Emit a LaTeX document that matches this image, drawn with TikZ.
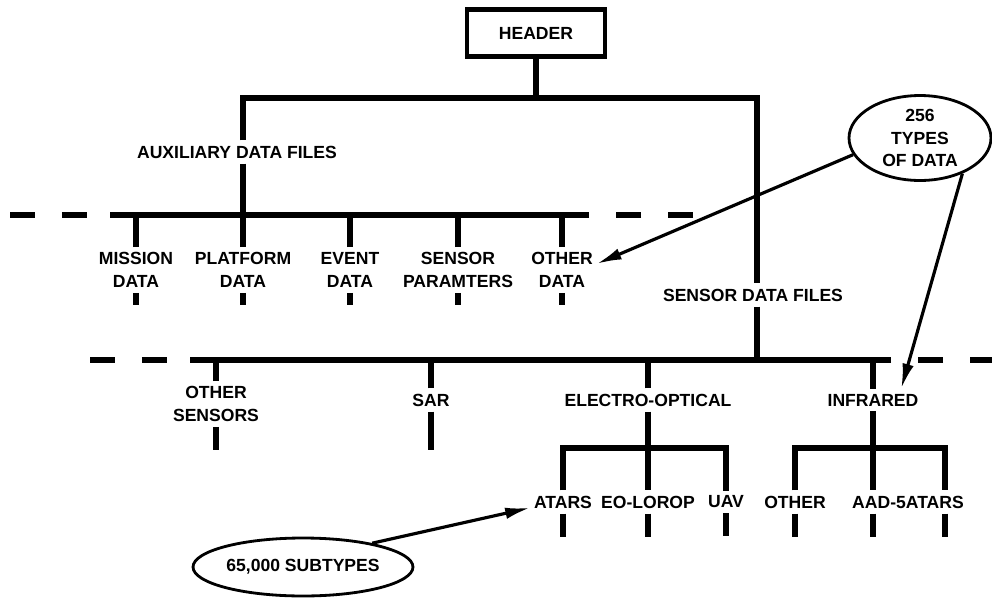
\documentclass[tikz,border=0pt]{standalone}
\usepackage{fontspec}
\setmainfont{Liberation Sans}
\usetikzlibrary{arrows.meta,positioning,shapes.geometric}
\newcommand{\lblfont}{\fontsize{10}{13}\selectfont\bfseries}
\tikzset{
  tree/.style={line width=3pt},
  ext/.style={line width=3pt, dash pattern=on 0.5cm off 0.54cm},
  lbl/.style={font=\lblfont, align=center, inner xsep=2pt, inner ysep=0.1cm},
  hdrbox/.style={draw, line width=2.8pt, minimum width=2.76cm, minimum height=0.94cm, font=\lblfont},
  bubble/.style={draw, ellipse, line width=1.6pt, inner sep=0pt, align=center, font=\lblfont},
  ptr/.style={-{Latex[length=5mm,width=2.3mm]}, line width=1.8pt},
}

\begin{document}
\begin{tikzpicture}[x=0.02cm, y=-0.02cm]
  \useasboundingbox (0,0) rectangle (992,599);
  % top level
  \node[hdrbox] (hdr) at (536,33) {HEADER};
  \node[lbl] (aux) at (237,152) {AUXILIARY DATA FILES};
  \node[lbl] (sens) at (753,295) {SENSOR DATA FILES};
  \coordinate (aj) at (243,98);
  \coordinate (sj) at (757,98);
  \coordinate (abus) at (243,215);
  \coordinate (sbus) at (757,360);
  \coordinate (low) at (0,450);
  \draw[tree] (hdr.south) -- (hdr.south |- aj);
  \draw[tree] (aux.north -| aj) -- (aj) -- (sj) -- (sens.north -| sj);
  \draw[tree] (aux.south -| abus) -- (abus);
  \draw[tree] (sens.south -| sbus) -- (sbus);

  % auxiliary data files
  \coordinate (aL0) at (10,215);  \coordinate (aL) at (110,215);
  \coordinate (aR) at (585,215);  \coordinate (aR0) at (693,215);
  \draw[tree] (aL) -- (aR);
  \draw[ext] (aL0) -- (aL);
  \draw[ext] (aR0) -- (aR);
  \foreach \n/\x/\t in {mis/136/{MISSION\\DATA}, plat/243/{PLATFORM\\DATA},
                        evt/350/{EVENT\\DATA}, spar/458/{SENSOR\\PARAMTERS},
                        oth/562/{OTHER\\DATA}} {
    \node[lbl] (\n) at (\x,270) {\t};
    \draw[tree] (\n.north) -- (\n.north |- abus);
    \draw[tree] (\n.south) -- ++(0,12);
  }

  % sensor data files
  \coordinate (sL0) at (90,360);  \coordinate (sL) at (190,360);
  \coordinate (sR) at (890,360);  \coordinate (sR0) at (995,360);
  \draw[tree] (sL) -- (sR);
  \draw[ext] (sL0) -- (sL);
  \draw[ext] (sR0) -- (sR);
  \node[lbl] (osen) at (216,404) {OTHER\\SENSORS};
  \node[lbl] (sar) at (431,400) {SAR};
  \node[lbl] (eo) at (648,400) {ELECTRO-OPTICAL};
  \node[lbl] (ir) at (873,400) {INFRARED};
  \foreach \n in {osen,sar,eo,ir}
    \draw[tree] (\n.north) -- (\n.north |- sbus);
  \foreach \n in {osen,sar}
    \draw[tree] (\n.south) -- (\n.south |- low);

  % electro-optical
  \coordinate (ebus) at (648,448);
  \node[lbl] (atars) at (563,502) {ATARS};
  \node[lbl] (eol) at (648,502) {EO-LOROP};
  \node[lbl] (uav) at (726,502) {UAV};
  \draw[tree] (atars.north) -- (atars.north |- ebus) -- (uav.north |- ebus) -- (uav.north);
  \draw[tree] (eo.south) -- (eol.north);
  \foreach \n in {atars,eol,uav}
    \draw[tree] (\n.south) -- ++(0,23);

  % infrared
  \coordinate (ibus) at (873,448);
  \coordinate (ib) at (945,448);
  \node[lbl] (iroth) at (795,502) {OTHER};
  \node[lbl] (aad) at (908,502) {AAD-5ATARS};
  \draw[tree] (iroth.north) -- (iroth.north |- ibus) -- (ib) -- (ib |- aad.north);
  \draw[tree] (ir.south) -- (ir.south |- aad.north);
  \draw[tree] (iroth.south) -- ++(0,23);
  \draw[tree] (aad.south -| ibus) -- ++(0,23);
  \draw[tree] (aad.south -| ib) -- ++(0,23);

  % notes
  \node[bubble, minimum width=2.84cm, minimum height=1.7cm] (typ) at (920,138) {256\\TYPES\\OF DATA};
  \node[bubble, minimum width=4.4cm, minimum height=1.16cm] (sub) at (303,567) {65,000 SUBTYPES};
  \draw[ptr] (typ.194) -- (oth.10);
  \draw[ptr] (typ.320) -- (ir.22);
  \draw[ptr] (sub.19) -- (atars.190);
\end{tikzpicture}
\end{document}
